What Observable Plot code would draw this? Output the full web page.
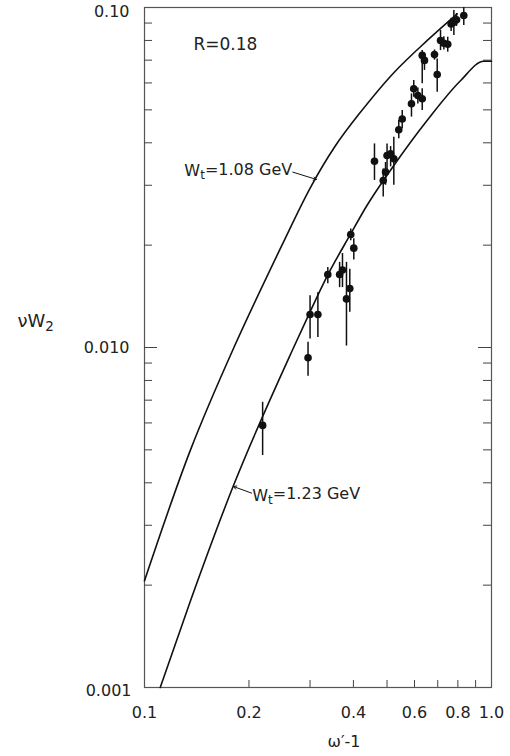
<!DOCTYPE html>
<html>
<head>
<meta charset="utf-8">
<script src="https://cdn.jsdelivr.net/npm/d3@7"></script>
<script src="https://cdn.jsdelivr.net/npm/@observablehq/plot@0.6"></script>
<style>
  html, body { margin: 0; padding: 0; background: #fff; }
  #chart svg { display: block; }
</style>
</head>
<body>
<div id="chart"></div>
<script>
// ---- tick labels ----
const xTickValues = [0.1, 0.2, 0.4, 0.6, 0.8, 1.0];
const xTickLabels = ["0.1", "0.2", "0.4", "0.6", "0.8", "1.0"];
const yTickValues = [0.1, 0.01, 0.001];
const yTickLabels = ["0.10", "0.010", "0.001"];
const xMinorTicks = [0.2, 0.3, 0.4, 0.5, 0.6, 0.7, 0.8, 0.9];
const yMinorTicks = [0.002, 0.003, 0.004, 0.005, 0.006, 0.007, 0.008, 0.009,
                     0.02, 0.03, 0.04, 0.05, 0.06, 0.07, 0.08, 0.09];
const yMajorTicks = [0.01];

// ---- theory curves ----
const curve108X = [0.1, 0.1357, 0.181, 0.249, 0.301, 0.355, 0.4145, 0.523, 0.653, 0.796];
const curve108Y = [0.00206, 0.005, 0.01, 0.02, 0.0296, 0.0392, 0.0485, 0.0643, 0.080, 0.0958];
const curve123X = [0.111, 0.1357, 0.180, 0.269, 0.2975, 0.338, 0.392, 0.438, 0.523, 0.653, 0.814, 0.950, 1.0];
const curve123Y = [0.001, 0.0018, 0.0039, 0.01, 0.0125, 0.0164, 0.0215, 0.0262, 0.0343, 0.0466, 0.0609, 0.0695, 0.0695];

// ---- measured points (x = ω'^-1, y = νW2, with error bar ends) ----
const pointX  = [0.219, 0.296, 0.300, 0.316, 0.3375, 0.365, 0.372, 0.382, 0.3905, 0.393, 0.401,
                 0.46, 0.4875, 0.495, 0.50, 0.512, 0.523, 0.5405, 0.553, 0.588, 0.597, 0.6135,
                 0.6315, 0.6315, 0.641, 0.685, 0.6975, 0.713, 0.729, 0.748, 0.765, 0.779, 0.793, 0.832];
const pointY  = [0.0059, 0.00933, 0.0125, 0.0125, 0.0164, 0.0164, 0.0169, 0.0139, 0.0149, 0.0215, 0.0196,
                 0.0353, 0.031, 0.0328, 0.0367, 0.0371, 0.0359, 0.0437, 0.047, 0.0521, 0.0577, 0.0551,
                 0.0539, 0.0723, 0.0699, 0.0727, 0.0635, 0.080, 0.0785, 0.078, 0.0895, 0.0905, 0.092, 0.0947];
const pointLo = [0.00481, 0.00823, 0.0106, 0.0107, 0.0154, 0.0150, 0.0150, 0.0101, 0.0127, 0.0206, 0.0181,
                 0.031, 0.0277, 0.030, 0.0331, 0.034, 0.030, 0.0411, 0.044, 0.0476, 0.0545, 0.052,
                 0.0498, 0.0597, 0.0653, 0.070, 0.0563, 0.0747, 0.075, 0.0739, 0.085, 0.0827, 0.088, 0.0885];
const pointHi = [0.0069, 0.01036, 0.0142, 0.0145, 0.0172, 0.0178, 0.0189, 0.0178, 0.0170, 0.0223, 0.0209,
                 0.0397, 0.0335, 0.035, 0.0397, 0.039, 0.0415, 0.0465, 0.0498, 0.0557, 0.061, 0.058,
                 0.0577, 0.0747, 0.0731, 0.075, 0.0706, 0.0856, 0.082, 0.0818, 0.093, 0.098, 0.096, 0.100];

// ---- texts ----
const labelR = "R=0.18";
const label108 = "W_t=1.08 GeV";
const label123 = "W_t=1.23 GeV";
const yTitle = "νW_2";
const xTitle = "ω′-1";

// ---- build tables ----
const curve108 = curve108X.map((x, i) => ({x, y: curve108Y[i]}));
const curve123 = curve123X.map((x, i) => ({x, y: curve123Y[i]}));
const points = pointX.map((x, i) => ({x, y: pointY[i], lo: pointLo[i], hi: pointHi[i]}));
const yLabelFmt = d => yTickLabels[yTickValues.indexOf(d)];

const W = 510, H = 756, mL = 144, mR = 19, mT = 7, mB = 69;
const innerW = W - mL - mR, innerH = H - mT - mB;
const ink = "#111";

const chart = Plot.plot({
  width: W, height: H,
  marginLeft: mL, marginRight: mR, marginTop: mT, marginBottom: mB,
  x: {type: "log", domain: [0.1, 1]},
  y: {type: "log", domain: [0.001, 0.1]},
  style: {fontFamily: "'DejaVu Sans', sans-serif", fontSize: "16px", color: "#222", background: "#fff"},
  marks: [
    Plot.frame({stroke: "#555", strokeWidth: 1.2}),
    // inward ticks
    Plot.ruleX(xMinorTicks, {x: d => d, insetTop: innerH - 7, stroke: "#444"}),
    Plot.ruleY(yMinorTicks, {y: d => d, insetRight: innerW - 8, stroke: "#444"}),
    Plot.ruleY(yMinorTicks, {y: d => d, insetLeft: innerW - 8, stroke: "#444"}),
    Plot.ruleY(yMajorTicks, {y: d => d, insetRight: innerW - 13, stroke: "#444"}),
    Plot.ruleY(yMajorTicks, {y: d => d, insetLeft: innerW - 13, stroke: "#444"}),
    // axis labels
    Plot.axisX({ticks: xTickValues, tickSize: 0, tickPadding: 19,
      tickFormat: d => xTickLabels[xTickValues.indexOf(d)], label: null, fontSize: 16}),
    Plot.axisY({ticks: [yTickValues[0]], tickSize: 0, tickPadding: 15, dy: 4,
      tickFormat: yLabelFmt, label: null, fontSize: 16}),
    Plot.axisY({ticks: [yTickValues[1]], tickSize: 0, tickPadding: 15,
      tickFormat: yLabelFmt, label: null, fontSize: 16}),
    Plot.axisY({ticks: [yTickValues[2]], tickSize: 0, tickPadding: 13, dy: 3,
      tickFormat: yLabelFmt, label: null, fontSize: 16}),
    // theory curves
    Plot.line(curve108, {x: "x", y: "y", stroke: ink, strokeWidth: 1.6, curve: "catmull-rom"}),
    Plot.line(curve123, {x: "x", y: "y", stroke: ink, strokeWidth: 1.6, curve: "monotone-x"}),
    // data
    Plot.ruleX(points, {x: "x", y1: "lo", y2: "hi", stroke: ink, strokeWidth: 1.5}),
    Plot.dot(points, {x: "x", y: "y", r: 3.8, fill: ink, stroke: "none"}),
    // annotations
    Plot.text([labelR], {frameAnchor: "top-left", dx: 49, dy: 30, text: d => d, textAnchor: "start", fontSize: 17, fill: "#222"}),
    Plot.text([label108], {x: 0.2665, y: 0.0331, text: d => d, textAnchor: "end", fontSize: 16, fill: "#222"}),
    Plot.arrow([0], {x1: 0.2675, y1: 0.0328, x2: 0.313, y2: 0.0312, stroke: ink, strokeWidth: 1, headLength: 5}),
    Plot.text([label123], {x: 0.2044, y: 0.00367, text: d => d, textAnchor: "start", fontSize: 16, fill: "#222"}),
    Plot.arrow([0], {x1: 0.2035, y1: 0.00373, x2: 0.1805, y2: 0.0039, stroke: ink, strokeWidth: 1, headLength: 5}),
    Plot.text([yTitle], {frameAnchor: "left", dx: -127, dy: -26, text: d => d, textAnchor: "start", fontSize: 18, fill: "#222"}),
    Plot.text([xTitle], {frameAnchor: "bottom", dx: 26, dy: 59, text: d => d, textAnchor: "middle", fontSize: 16, fill: "#222"})
  ]
});

// subscripts as real tspans
d3.select(chart).selectAll("text").each(function () {
  const t = this.textContent;
  if (t.includes("_")) {
    const [base, rest] = t.split("_");
    const sub = rest.charAt(0), tail = rest.slice(1);
    const sel = d3.select(this);
    sel.text(null);
    sel.append("tspan").text(base);
    sel.append("tspan").attr("dy", "0.3em").attr("font-size", "0.75em").text(sub);
    if (tail) sel.append("tspan").attr("dy", "-0.3em").text(tail);
  }
});

document.getElementById("chart").appendChild(chart);
</script>
</body>
</html>
